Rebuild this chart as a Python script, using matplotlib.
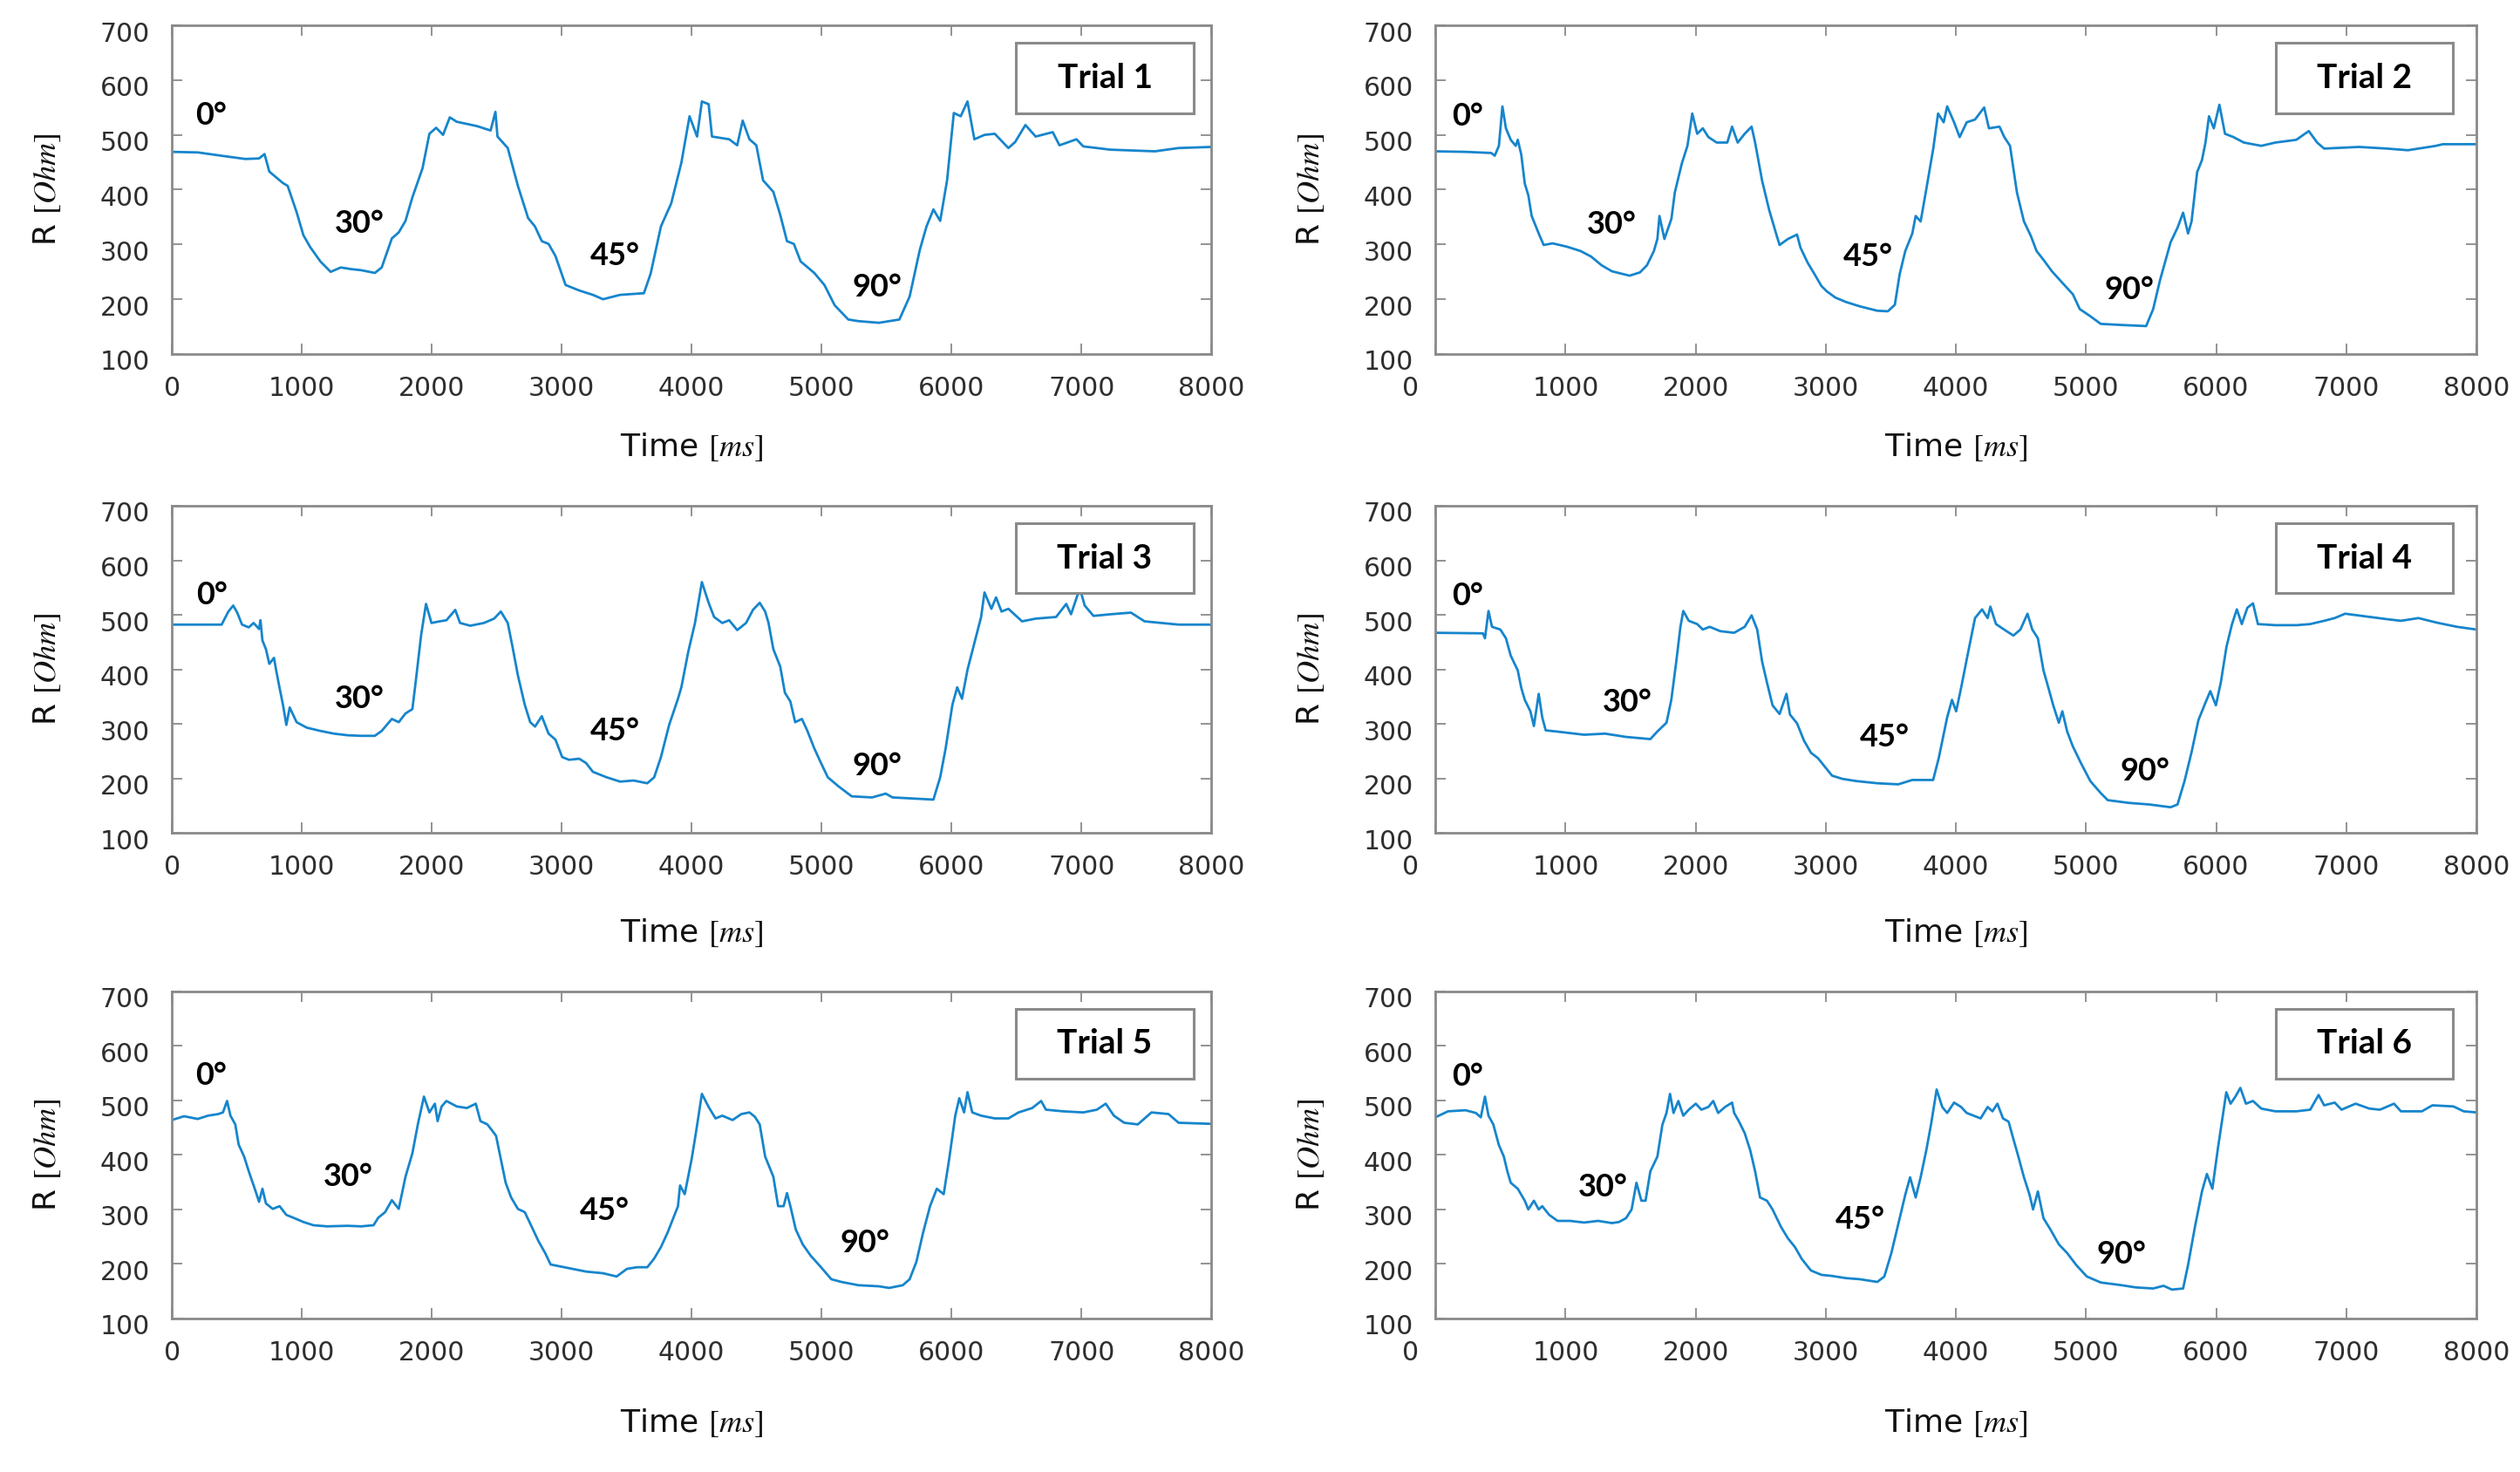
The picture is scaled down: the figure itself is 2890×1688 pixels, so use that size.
import matplotlib
matplotlib.use('Agg')
import matplotlib.pyplot as plt
import matplotlib.transforms as mtransforms
from matplotlib.patches import Rectangle

# ---------------- data (time [ms], resistance [Ohm]) ----------------
trial_names = ['Trial 1', 'Trial 2', 'Trial 3', 'Trial 4', 'Trial 5', 'Trial 6']

trial1 = [(0,469),(200,468),(410,461),(566,456),(671,457),(713,465),(750,433),(855,412),(891,407),(907,396),
          (960,359),(1012,317),(1065,295),(1143,269),(1222,250),(1300,258),(1379,255),(1457,253),(1562,248),(1615,258),
          (1693,311),(1746,322),(1798,343),(1851,386),(1929,439),(1982,502),(2034,513),(2087,500),(2139,532),(2192,524),
          (2349,516),(2453,508),(2490,542),(2506,497),(2585,476),(2663,407),(2742,348),(2794,333),(2847,306),(2899,301),
          (2952,279),(3030,226),(3135,216),(3240,208),(3318,200),(3450,208),(3633,211),(3685,247),(3764,333),(3843,375),
          (3921,449),(3984,534),(4042,497),(4079,561),(4131,556),(4157,497),(4289,492),(4351,481),(4393,526),(4445,492),
          (4498,481),(4550,417),(4629,396),(4682,354),(4734,306),(4787,301),(4839,269),(4944,248),(5022,226),(5101,189),
          (5206,163),(5284,160),(5442,157),(5599,163),(5678,205),(5756,290),(5808,333),(5861,364),(5913,343),(5966,417),
          (6018,540),(6071,534),(6123,561),(6176,492),(6254,500),(6333,502),(6438,476),(6490,487),(6569,518),(6648,497),
          (6779,505),(6831,481),(6962,492),(7014,479),(7224,473),(7565,470),(7748,476),(8000,478)]

trial2 = [(0,470),(231,469),(429,467),(456,462),(488,480),(515,552),(542,512),(579,491),(617,480),(633,491),
          (660,464),(687,411),(714,390),(740,352),(794,320),(832,299),(901,302),(1009,296),(1116,288),(1196,278),
          (1277,262),(1357,251),(1492,243),(1572,249),(1626,262),(1679,288),(1706,310),(1722,352),(1760,310),(1814,347),
          (1840,395),(1894,448),(1937,480),(1974,539),(2012,502),(2055,512),(2098,496),(2162,486),(2243,486),(2280,515),
          (2323,486),(2377,502),(2430,515),(2457,486),(2511,416),(2565,363),(2618,320),(2645,299),(2709,310),(2779,318),
          (2806,294),(2860,267),(2913,246),(2967,224),(3010,214),(3074,203),(3155,195),(3262,187),(3396,179),(3477,178),
          (3531,190),(3568,246),(3611,288),(3665,320),(3691,352),(3729,342),(3772,400),(3826,475),(3863,539),(3906,523),
          (3933,552),(3986,523),(4029,496),(4083,523),(4147,528),(4217,550),(4254,512),(4335,515),(4372,496),(4416,480),
          (4469,395),(4523,342),(4577,315),(4620,288),(4673,272),(4738,251),(4818,230),(4899,209),(4952,182),(5033,169),
          (5113,155),(5274,153),(5462,151),(5516,182),(5569,235),(5650,304),(5704,331),(5746,358),(5784,320),(5811,342),
          (5854,432),(5891,454),(5918,486),(5945,534),(5982,512),(6025,555),(6068,502),(6133,496),(6213,486),(6347,480),
          (6455,486),(6616,491),(6712,507),(6776,486),(6830,475),(7098,478),(7313,475),(7474,472),(7689,480),(7742,483),
          (8000,483)]

trial3 = [(0,482),(383,482),(435,506),(472,517),(503,504),(540,482),(592,477),(629,485),(671,474),(682,490),
          (697,453),(724,437),(750,410),(786,421),(802,399),(828,367),(855,335),(881,298),(907,330),(960,303),
          (1038,293),(1143,287),(1248,282),(1353,279),(1457,278),(1562,278),(1615,287),(1693,309),(1746,303),(1798,319),
          (1851,327),(1877,378),(1919,464),(1956,520),(1998,485),(2060,488),(2113,490),(2181,509),(2218,485),(2296,480),
          (2401,485),(2480,493),(2532,506),(2585,485),(2621,442),(2663,389),(2716,335),(2758,303),(2795,295),(2847,314),
          (2899,282),(2952,271),(3004,239),(3057,234),(3135,236),(3188,228),(3240,212),(3345,202),(3450,194),(3554,196),
          (3659,191),(3712,202),(3764,239),(3827,298),(3895,346),(3921,367),(3974,432),(4026,485),(4079,560),(4131,522),
          (4173,496),(4236,485),(4289,490),(4351,472),(4419,485),(4472,509),(4524,522),(4566,506),(4592,485),(4629,437),
          (4682,405),(4718,357),(4760,341),(4797,303),(4849,309),(4891,287),(4944,255),(4996,228),(5048,202),(5127,186),
          (5232,167),(5389,165),(5494,172),(5546,165),(5703,163),(5861,161),(5913,202),(5955,255),(6007,335),(6044,367),
          (6081,346),(6123,399),(6176,448),(6228,496),(6254,541),(6307,511),(6343,532),(6385,506),(6438,511),(6543,488),
          (6648,493),(6805,496),(6883,520),(6920,501),(6988,549),(7025,517),(7093,498),(7224,501),(7381,504),(7486,488),
          (7748,482),(8000,482)]

trial4 = [(0,467),(365,466),(381,457),(408,507),(435,478),(499,473),(542,457),(579,425),(633,398),(660,366),
          (687,344),(730,323),(757,296),(794,355),(821,312),(848,288),(928,286),(1035,283),(1143,280),(1304,282),
          (1465,276),(1652,272),(1706,286),(1776,302),(1813,344),(1851,414),(1883,478),(1905,507),(1947,489),(2012,483),
          (2055,473),(2108,478),(2189,470),(2296,467),(2377,478),(2430,499),(2473,473),(2511,414),(2548,376),(2591,334),
          (2645,318),(2698,355),(2725,317),(2779,301),(2833,269),(2886,247),(2940,237),(2994,221),(3048,205),(3128,199),
          (3235,195),(3396,191),(3557,189),(3664,197),(3825,197),(3868,237),(3933,312),(3970,344),(4002,323),(4040,366),
          (4093,430),(4147,494),(4201,510),(4244,494),(4265,515),(4308,483),(4389,470),(4442,462),(4496,473),(4550,502),
          (4587,473),(4630,457),(4673,398),(4711,366),(4748,334),(4791,302),(4818,323),(4855,286),(4898,259),(4963,227),
          (5033,195),(5113,173),(5167,160),(5328,155),(5489,152),(5650,147),(5703,152),(5757,195),(5811,248),(5864,307),
          (5918,339),(5955,360),(5998,334),(6036,376),(6079,441),(6122,483),(6159,510),(6197,483),(6240,513),(6283,521),
          (6321,483),(6455,481),(6620,481),(6723,483),(6830,489),(6911,494),(6991,502),(7152,497),(7313,492),(7420,489),
          (7555,494),(7689,486),(7850,478),(8000,473)]

trial5 = [(0,464),(94,471),(199,466),(278,472),(357,475),(393,478),(425,499),(451,472),(488,456),(514,419),
          (556,397),(592,370),(645,333),(671,314),(697,338),(724,311),(776,301),(829,306),(881,290),(933,285),
          (1012,277),(1090,271),(1195,269),(1353,270),(1457,269),(1552,271),(1589,285),(1641,295),(1693,317),(1746,301),
          (1798,360),(1851,403),(1893,456),(1940,507),(1982,478),(2024,494),(2045,462),(2076,489),(2113,499),(2192,489),
          (2270,486),(2339,494),(2375,462),(2428,456),(2464,445),(2495,435),(2532,392),(2569,349),(2611,322),(2663,301),
          (2716,295),(2768,269),(2821,242),(2873,220),(2915,199),(2978,196),(3083,191),(3188,186),(3318,183),(3423,177),
          (3502,191),(3580,194),(3659,194),(3712,210),(3764,231),(3816,258),(3895,306),(3911,344),(3947,328),(4000,392),
          (4036,445),(4079,512),(4131,488),(4184,467),(4236,472),(4315,464),(4383,475),(4445,478),(4487,470),(4524,456),
          (4566,397),(4629,360),(4666,306),(4708,306),(4734,330),(4760,306),(4802,263),(4855,236),(4917,215),(4996,194),
          (5075,172),(5153,167),(5284,161),(5442,159),(5520,156),(5625,161),(5678,172),(5730,204),(5782,258),(5835,306),
          (5887,338),(5940,328),(5982,392),(6029,472),(6060,504),(6097,478),(6123,515),(6160,478),(6228,472),(6333,467),
          (6438,467),(6516,478),(6621,486),(6690,499),(6727,483),(6858,480),(7014,478),(7119,483),(7187,494),(7250,472),
          (7329,459),(7434,456),(7539,478),(7670,475),(7748,459),(8000,457)]

trial6 = [(0,469),(97,480),(231,482),(311,477),(349,469),(381,507),(408,472),(445,456),(488,418),(526,397),
          (553,370),(579,349),(633,338),(687,316),(714,300),(757,316),(794,300),(821,306),(875,290),(939,279),
          (1035,279),(1143,276),(1250,279),(1357,275),(1411,277),(1465,284),(1508,300),(1545,349),(1583,316),(1615,316),
          (1652,370),(1706,397),(1744,455),(1776,477),(1803,512),(1830,477),(1867,499),(1905,472),(1947,483),(2001,494),
          (2044,483),(2098,488),(2135,499),(2173,477),(2226,488),(2280,496),(2296,477),(2334,461),(2377,440),(2420,408),
          (2457,370),(2495,322),(2548,316),(2591,300),(2656,268),(2709,247),(2763,231),(2816,209),(2886,188),(2967,180),
          (3048,178),(3155,174),(3262,172),(3396,167),(3450,177),(3504,220),(3557,273),(3611,327),(3648,359),(3691,322),
          (3729,359),(3772,408),(3809,456),(3852,520),(3895,488),(3933,477),(3986,496),(4040,488),(4083,477),(4136,472),
          (4190,467),(4244,488),(4281,480),(4319,494),(4362,467),(4405,461),(4442,429),(4480,397),(4523,359),(4566,327),
          (4593,300),(4630,333),(4673,284),(4727,263),(4791,236),(4855,220),(4925,198),(5006,177),(5113,166),(5274,161),
          (5381,157),(5516,155),(5596,160),(5660,153),(5746,155),(5784,198),(5837,268),(5891,333),(5929,365),(5971,338),
          (6014,413),(6051,472),(6078,515),(6111,494),(6148,507),(6186,523),(6229,494),(6283,499),(6347,485),(6455,480),
          (6616,480),(6723,483),(6787,510),(6830,491),(6911,496),(6964,483),(7071,494),(7178,485),(7259,483),(7367,494),
          (7420,480),(7581,480),(7662,491),(7823,489),(7903,480),(8000,478)]

trials = [trial1, trial2, trial3, trial4, trial5, trial6]

angle_labels = ['0°', '30°', '45°', '90°']
x_ticks = [0, 1000, 2000, 3000, 4000, 5000, 6000, 7000, 8000]
y_ticks = [100, 200, 300, 400, 500, 600, 700]

# annotation anchor points (data coords) for the angle labels
angle_label_pos = [
    [(304, 536), (1442, 338), (3408, 279), (5426, 221)],
    [(247, 534), (1357, 336), (3327, 278), (5333, 217)],
    [(309, 536), (1442, 346), (3408, 287), (5426, 223)],
    [(247, 534), (1475, 339), (3450, 275), (5451, 213)],
    [(304, 545), (1358, 360), (3329, 298), (5337, 239)],
    [(247, 544), (1288, 341), (3262, 282), (5274, 217)],
]

# ---------------- styling ----------------
plt.rcParams['mathtext.fontset'] = 'stix'
plt.rcParams['font.family'] = ['DejaVu Sans']

LINE_COLOR = '#1685cc'
FRAME_COLOR = '#8a8a8a'
TICK_LABEL_COLOR = '#2e2e2e'

fig = plt.figure(figsize=(28.9, 16.88), dpi=100)

rows = [(0.7595, 0.2233), (0.4342, 0.2222), (0.1043, 0.2222)]
cols = [(0.0682, 0.4125), (0.5696, 0.4131)]
xlabel_offsets = [-0.235, -0.258, -0.272]
box_x = [(0.812, 0.983), (0.807, 0.977)]

for i, data in enumerate(trials):
    r, c = divmod(i, 2)
    bottom, height = rows[r]
    left, width = cols[c]
    ax = fig.add_axes([left, bottom, width, height])

    t = [p[0] for p in data]
    v = [p[1] for p in data]
    ax.plot(t, v, color=LINE_COLOR, lw=2.0, solid_joinstyle='round')

    ax.set_xlim(0, 8000)
    ax.set_ylim(100, 700)
    ax.set_xticks(x_ticks)
    ax.set_yticks(y_ticks)
    ax.set_xticklabels([str(x) for x in x_ticks])
    ax.set_yticklabels([str(y) for y in y_ticks])
    ax.tick_params(direction='in', top=True, right=True, length=8.5, width=1.3,
                   color=FRAME_COLOR, labelsize=21.5, labelcolor=TICK_LABEL_COLOR, pad=18)
    for s in ax.spines.values():
        s.set_color(FRAME_COLOR)
        s.set_linewidth(2.0)

    # small offsets reproducing the label placement of the original
    for tk in ax.yaxis.get_major_ticks():
        tk.label1.set_transform(tk.label1.get_transform() +
                                mtransforms.ScaledTranslation(0, -7 / 100, fig.dpi_scale_trans))
    xticks = ax.xaxis.get_major_ticks()
    if c == 1:
        lab = xticks[0].label1
        lab.set_transform(lab.get_transform() +
                          mtransforms.ScaledTranslation(-29 / 100, 0, fig.dpi_scale_trans))

    ax.set_xlabel(r'Time $[ms]$', fontsize=26, color='#111111')
    ax.set_ylabel(r'R $[Ohm]$', fontsize=26, color='#111111')
    ax.xaxis.set_label_coords(0.5, xlabel_offsets[r])
    ax.yaxis.set_label_coords(-0.105, 0.5)

    # trial box
    x0, x1 = box_x[c]
    ax.add_patch(Rectangle((x0, 0.733), x1 - x0, 0.947 - 0.733, transform=ax.transAxes,
                           fill=True, facecolor='white', edgecolor=FRAME_COLOR, lw=2.2, zorder=5))
    ax.text((x0 + x1) / 2, 0.84, trial_names[i], transform=ax.transAxes, ha='center', va='center',
            fontsize=28, fontweight='bold', family=['Lato', 'DejaVu Sans'], color='black', zorder=6)

    for lbl, (lx, ly) in zip(angle_labels, angle_label_pos[i]):
        ax.text(lx, ly, lbl, ha='center', va='center', fontsize=26, fontweight='bold',
                family=['Lato', 'DejaVu Sans'], color='black', zorder=6)

fig.savefig('out.png', dpi=100, facecolor='white')
